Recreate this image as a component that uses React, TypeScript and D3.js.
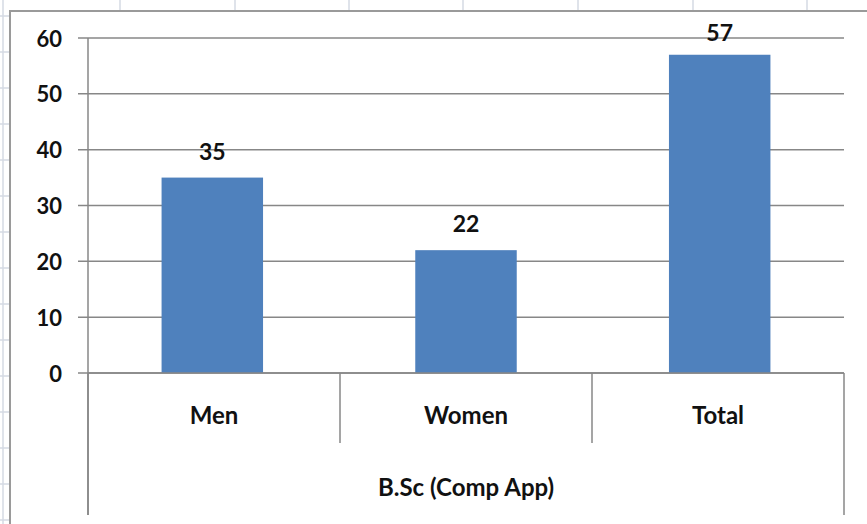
import React from "react";
import * as d3 from "d3";

const categories = ["Men", "Women", "Total"];
const values = [35, 22, 57];
const yTicks = [0, 10, 20, 30, 40, 50, 60];
const groupLabel = "B.Sc (Comp App)";

const W = 867;
const H = 524;
const FONT = "Lato, 'Open Sans', sans-serif";

export default function App() {
  const plotLeft = 88;
  const plotRight = 844;
  const y = d3.scaleLinear().domain([0, 60]).range([373, 38]);
  const xBar = d3
    .scaleBand<string>()
    .domain(categories)
    .range([plotLeft, plotRight])
    .paddingInner(0.6)
    .paddingOuter(0.29);
  const xCell = d3.scaleBand<string>().domain(categories).range([plotLeft, plotRight]).padding(0);

  const axisY = y(0);
  const gridColor = "#878787";
  const sheetGrid = "#d5dae3";

  const sheetV = [3, 120, 235, 349, 463, 578, 693, 807];
  const sheetH = d3.range(16, H, 36);

  const boundaries = categories.map((c) => xCell(c) as number).concat([plotRight]);

  return (
    <svg
      width={W}
      height={H}
      style={{ position: "absolute", left: 0, top: 0, background: "#fff" }}
    >
      {/* spreadsheet background grid */}
      {sheetV.map((x) => (
        <line key={"sv" + x} x1={x} x2={x} y1={0} y2={x === 3 ? H : 11} stroke={sheetGrid} strokeWidth={1.5} />
      ))}
      {sheetH.map((yy) => (
        <line key={"sh" + yy} x1={0} x2={10} y1={yy} y2={yy} stroke={sheetGrid} strokeWidth={1.5} />
      ))}
      {/* chart frame */}
      <rect x={10} y={11} width={W + 20} height={H + 20} fill="#fff" stroke="#9a9a9a" strokeWidth={2} />

      {/* gridlines + ticks */}
      {yTicks.map((t) => (
        <g key={"t" + t}>
          <line x1={78} x2={plotRight} y1={y(t)} y2={y(t)} stroke={gridColor} strokeWidth={1.5} />
          <text
            x={62}
            y={y(t)}
            textAnchor="end"
            dominantBaseline="central"
            fontFamily={FONT}
            fontWeight="bold"
            fontSize={22}
            fill="#111"
          >
            {t}
          </text>
        </g>
      ))}

      {/* bars */}
      {categories.map((c, i) => (
        <rect
          key={"b" + c}
          x={xBar(c)}
          y={y(values[i])}
          width={xBar.bandwidth()}
          height={axisY - y(values[i])}
          fill="#4F81BD"
        />
      ))}

      {/* value labels */}
      {categories.map((c, i) => (
        <text
          key={"v" + c}
          x={(xBar(c) as number) + xBar.bandwidth() / 2}
          y={Math.max(y(values[i]) - 27, 32)}
          textAnchor="middle"
          dominantBaseline="central"
          fontFamily={FONT}
          fontWeight="bold"
          fontSize={23}
          fill="#111"
        >
          {values[i]}
        </text>
      ))}

      {/* axes */}
      <line x1={plotLeft} x2={plotLeft} y1={y(60)} y2={515} stroke={gridColor} strokeWidth={1.5} />
      <line x1={plotLeft} x2={plotRight} y1={axisY} y2={axisY} stroke={gridColor} strokeWidth={1.5} />
      {boundaries.map((b, i) => (
        <line
          key={"sep" + i}
          x1={b}
          x2={b}
          y1={axisY}
          y2={i === 0 || i === boundaries.length - 1 ? 515 : 443}
          stroke={gridColor}
          strokeWidth={1.5}
        />
      ))}

      {/* category labels */}
      {categories.map((c) => (
        <text
          key={"c" + c}
          x={(xCell(c) as number) + xCell.bandwidth() / 2}
          y={414}
          textAnchor="middle"
          dominantBaseline="central"
          fontFamily={FONT}
          fontWeight="bold"
          fontSize={24}
          fill="#111"
        >
          {c}
        </text>
      ))}
      <text
        x={(plotLeft + plotRight) / 2}
        y={486}
        textAnchor="middle"
        dominantBaseline="central"
        fontFamily={FONT}
        fontWeight="bold"
        fontSize={24}
        fill="#111"
      >
        {groupLabel}
      </text>
    </svg>
  );
}
